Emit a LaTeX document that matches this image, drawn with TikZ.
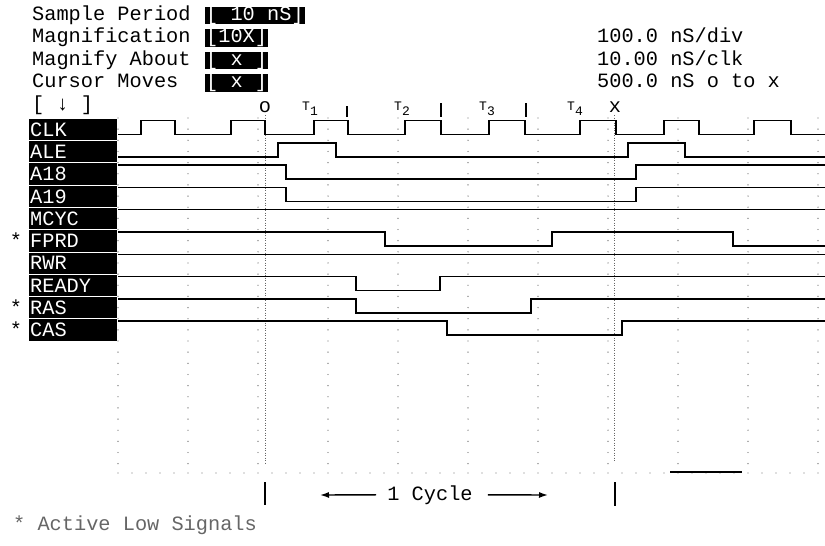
\documentclass[tikz,border=0pt]{standalone}
\usepackage{fontspec}
\setmainfont{Liberation Mono}
\usetikzlibrary{arrows.meta}
\tikzset{
  lablbox/.style={fill=black,text=white,anchor=north west,minimum width=88pt,
    minimum height=21.3pt,inner xsep=1pt,text width=86pt,align=left,
    text height=13.5pt,text depth=0pt},
  invbox/.style={fill=black,text=white,anchor=base west,inner xsep=1pt,
    text height=13.5pt,text depth=4pt},
  wave/.style={line width=1.5pt},
  griddot/.style={fill=black!55},
  cursorline/.style={black!60,line width=0.7pt,dash pattern=on 1pt off 1.5pt},
  tick/.style={line width=1.2pt},
  cyclearrow/.style={-{Latex[length=9pt,width=6pt]},line width=1.4pt},
  tlabel/.style={anchor=base west,font=\fontsize{13}{13}\selectfont}
}
\begin{document}
\begin{tikzpicture}[x=1pt,y=-1pt,inner sep=0pt,font=\fontsize{20.3}{22}\selectfont]
  \useasboundingbox (0,0) rectangle (825,546);
  % grid and cursors
  \foreach \k in {0,...,10}
    \foreach \j in {0,...,31}
      \fill[griddot] (118+70*\k,118+11.15*\j) circle (0.7pt);
  \foreach \m in {0,...,50}
    \fill[griddot] (118+14*\m,473) circle (0.7pt);
  \draw[line width=1.5pt] (670,472)--(742,472);
  \draw[cursorline] (265,115)--(265,463);
  \draw[cursorline] (614,115)--(614,462);

  % header
  \node[anchor=base west] (sp) at (32,20) {Sample Period};
  \node[invbox] (spv) at (205,20) {[ 10 nS]};
  \node[anchor=base west] (mag) at (32,42.5) {Magnification};
  \node[invbox] (magv) at (205,42.5) {[10X]};
  \node[anchor=base west] (mab) at (32,65) {Magnify About};
  \node[invbox] (mabv) at (205,65) {[ x ]};
  \node[anchor=base west] (cm) at (32,87.5) {Cursor Moves};
  \node[invbox] (cmv) at (205,87.5) {[ x ]};
  \node[anchor=base west] (dir) at (32,110) {[ ↓ ]};
  \node[anchor=base west] (div) at (597,42.5) {100.0 nS/div};
  \node[anchor=base west] (clkr) at (597,65) {10.00 nS/clk};
  \node[anchor=base west] (otox) at (597,87.5) {500.0 nS o to x};

  % cursor marks and states
  \node[anchor=base] (curo) at (265,112) {o};
  \node[anchor=base] (curx) at (615,112) {x};
  \node[tlabel] (t1) at (302,110) {T\raisebox{-5pt}{1}};
  \node[tlabel] (t2) at (394,110) {T\raisebox{-5pt}{2}};
  \node[tlabel] (t3) at (479,110) {T\raisebox{-5pt}{3}};
  \node[tlabel] (t4) at (567,110) {T\raisebox{-5pt}{4}};
  \draw[tick] (347,106)--(347,117);
  \draw[tick] (441,103)--(441,117);
  \draw[tick] (526,103)--(526,117);

  % signal names
  \node[lablbox] (clk) at (29,118.5) {CLK};
  \node[lablbox] (ale) at (29,140.8) {ALE};
  \node[lablbox] (a18) at (29,163.1) {A18};
  \node[lablbox] (a19) at (29,185.4) {A19};
  \node[lablbox] (mcyc) at (29,207.7) {MCYC};
  \node[lablbox] (fprd) at (29,230) {FPRD};
  \node[lablbox] (rwr) at (29,252.3) {RWR};
  \node[lablbox] (ready) at (29,274.6) {READY};
  \node[lablbox] (ras) at (29,296.9) {RAS};
  \node[lablbox] (cas) at (29,319.2) {CAS};
  \node (fprdst) at (16,240) {*};
  \node (rasst) at (16,307) {*};
  \node (casst) at (16,329.5) {*};

  % waveforms
  \draw[wave] (118,134.5) -| (141,120.5) -| (175,134.5) -| (231,120.5) -| (265,134.5)
    -| (314,120.5) -| (348,134.5) -| (405,120.5) -| (441,134.5) -| (489,120.5)
    -| (525,134.5) -| (580,120.5) -| (616,134.5) -| (664,120.5) -| (699,134.5)
    -| (754,120.5) -| (791,134.5) -- (825,134.5);
  \draw[wave] (118,156.8) -| (278,142.8) -| (336,156.8) -| (628,142.8) -| (685,156.8) -- (825,156.8);
  \draw[wave] (118,165.1) -| (286,179.1) -| (636,165.1) -- (825,165.1);
  \draw[wave] (118,187.4) -| (286,201.4) -| (636,187.4) -- (825,187.4);
  \draw[wave] (118,209.7) -- (825,209.7);
  \draw[wave] (118,232) -| (385,246) -| (552,232) -| (733,246) -- (825,246);
  \draw[wave] (118,254.3) -- (825,254.3);
  \draw[wave] (118,276.6) -| (356,290.6) -| (440,276.6) -- (825,276.6);
  \draw[wave] (118,298.9) -| (356,312.9) -| (531,298.9) -- (825,298.9);
  \draw[wave] (118,321.2) -| (447,335.2) -| (622,321.2) -- (825,321.2);

  % cycle span
  \draw[tick] (265,482)--(265,505);
  \draw[tick] (615,482)--(615,506);
  \node[anchor=base] (cyc) at (430,500) {1 Cycle};
  \coordinate (cycl) at (320,495);
  \coordinate (cycr) at (548,495);
  \draw[cyclearrow,shorten <=11pt] (cyc.west) -- (cycl);
  \draw[cyclearrow,shorten <=15pt] (cyc.east) -- (cycr);

  \node[anchor=base west,black!60] (note) at (13,530) {* Active Low Signals};
\end{tikzpicture}
\end{document}
